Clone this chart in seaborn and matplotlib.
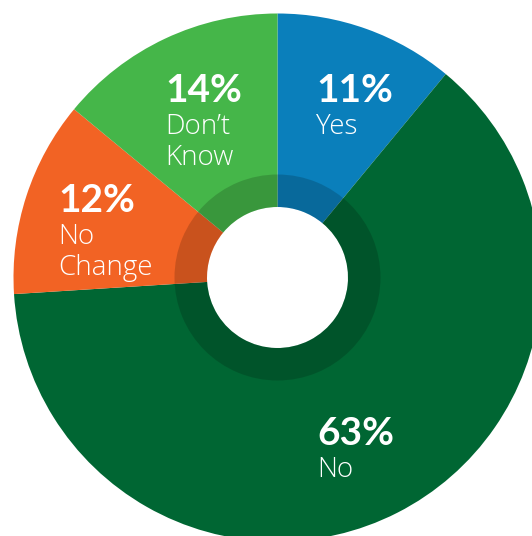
import matplotlib
matplotlib.use("Agg")
import matplotlib.pyplot as plt
from matplotlib.patches import Wedge
import seaborn as sns

# Survey answers, clockwise from 12 o'clock
categories = ["Yes", "No", "No Change", "Don't Know"]
label_lines = ["Yes", "No", "No\nChange", "Don’t\nKnow"]
shares = [11, 63, 12, 14]
colors = ["#0a7fbb", "#006633", "#f26324", "#45b649"]

sns.set_style("white")
plt.rcParams["font.family"] = ["Lato", "DejaVu Sans"]

W, H = 532, 536
fig = plt.figure(figsize=(W / 100, H / 100), dpi=100)
ax = fig.add_axes([0, 0, 1, 1])

cx, cy = 277.5, 277.5          # pixel centre of the donut
R_OUT, R_RING, R_HOLE = 264, 103, 70.5

ax.pie(shares, colors=colors, startangle=90, counterclock=False,
       radius=R_OUT, center=(0, 0),
       wedgeprops=dict(width=R_OUT - R_HOLE, linewidth=0))

# darker inner band around the hole
ax.add_patch(Wedge((0, 0), R_RING, 0, 360, width=R_RING - R_HOLE,
                   facecolor="black", alpha=0.17, linewidth=0))

# label anchors in pixel space (left edge, baseline of the percentage)
anchors = [(316, 102), (317, 445), (58, 212), (165, 102)]
for pct, lines, (px, py) in zip(shares, label_lines, anchors):
    x, y = px - cx, cy - py
    ax.text(x, y, f"{pct}%", ha="left", va="baseline", color="white",
            fontsize=28, fontweight="bold")
    for i, line in enumerate(lines.split("\n")):
        ax.text(x, y - 32 - 31 * i, line, ha="left", va="baseline",
                color="white", fontsize=20, fontweight="light",
                family=["Open Sans", "DejaVu Sans"])

ax.set_xlim(-cx, W - cx)
ax.set_ylim(-(H - cy), cy)
ax.set_aspect("equal")
ax.axis("off")

fig.savefig("out.png", dpi=100, facecolor="white")
